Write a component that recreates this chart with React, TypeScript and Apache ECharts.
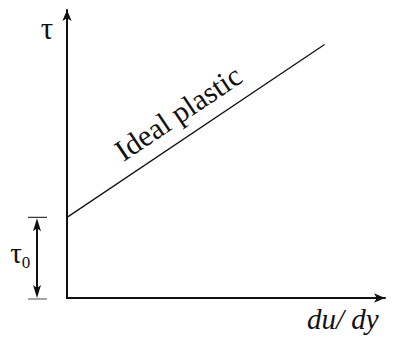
import React, { useEffect, useRef } from "react";
import * as echarts from "echarts";

const xRange = [0, 10];
const yRange = [0, 10];
const tau0Value = [2.8];
const lineX = [0, 8.1];
const lineY = [2.8, 8.8];
const yAxisLabel = ["τ"];
const xAxisLabel = ["du/ dy"];
const lineLabel = ["Ideal plastic"];
const tau0Label = ["τ", "0"];

const SERIF = "Liberation Serif";
const INK = "#111";

function txt(text: string, size: number, extra: any = {}) {
  return {
    text,
    fontSize: size,
    fontFamily: SERIF,
    fill: INK,
    align: "center",
    verticalAlign: "middle",
    ...extra,
  };
}

export default function App() {
  const ref = useRef<HTMLDivElement>(null);
  useEffect(() => {
    if (!ref.current) return;
    const chart = echarts.init(ref.current, undefined, { renderer: "svg" });
    const axisCommon = {
      type: "value" as const,
      axisTick: { show: false },
      axisLabel: { show: false },
      splitLine: { show: false },
      axisLine: {
        show: true,
        symbol: ["none", "arrow"],
        symbolSize: [7, 11],
        lineStyle: { color: INK, width: 2 },
      },
    };
    chart.setOption({
      animation: false,
      backgroundColor: "#fff",
      grid: { left: 67, right: 8, top: 10, bottom: 41 },
      xAxis: { ...axisCommon, min: xRange[0], max: xRange[1] },
      yAxis: { ...axisCommon, min: yRange[0], max: yRange[1] },
      graphic: [
        {
          type: "text",
          x: 47,
          y: 28,
          style: txt(yAxisLabel[0], 31),
        },
        {
          type: "text",
          x: 307,
          y: 319,
          style: txt(xAxisLabel[0], 29, { align: "left", fontStyle: "italic" }),
        },
      ],
      series: [
        {
          type: "line",
          data: lineX.map((x, i) => [x, lineY[i]]),
          symbol: "none",
          lineStyle: { color: INK, width: 1.3 },
          silent: true,
        },
        {
          type: "custom",
          clip: false,
          silent: true,
          data: [[xRange[0], tau0Value[0]]],
          renderItem: (params: any, api: any) => {
            const p0 = api.coord([api.value(0), api.value(1)]);
            const pb = api.coord([api.value(0), yRange[0]]);
            const x0 = p0[0];
            const cx = x0 - 30;
            const mid = (p0[1] + pb[1]) / 2;
            return {
              type: "group",
              children: [
                {
                  type: "line",
                  shape: { x1: x0 - 39, y1: p0[1], x2: x0 - 20, y2: p0[1] },
                  style: { stroke: "#333", lineWidth: 1.2 },
                },
                {
                  type: "line",
                  shape: { x1: x0 - 39, y1: pb[1] + 1, x2: x0 - 20, y2: pb[1] + 1 },
                  style: { stroke: "#888", lineWidth: 1.5 },
                },
                {
                  type: "line",
                  shape: { x1: cx, y1: p0[1] + 8, x2: cx, y2: pb[1] - 8 },
                  style: { stroke: INK, lineWidth: 2 },
                },
                {
                  type: "polygon",
                  shape: {
                    points: [
                      [cx, p0[1] + 1],
                      [cx - 4, p0[1] + 14],
                      [cx, p0[1] + 11],
                      [cx + 4, p0[1] + 14],
                    ],
                  },
                  style: { fill: INK },
                },
                {
                  type: "polygon",
                  shape: {
                    points: [
                      [cx, pb[1]],
                      [cx - 4, pb[1] - 13],
                      [cx, pb[1] - 10],
                      [cx + 4, pb[1] - 13],
                    ],
                  },
                  style: { fill: INK },
                },
                {
                  type: "text",
                  x: x0 - 51,
                  y: mid - 5,
                  style: txt(tau0Label[0], 29),
                },
                {
                  type: "text",
                  x: x0 - 41,
                  y: mid + 5,
                  style: txt(tau0Label[1], 17),
                },
              ],
            };
          },
        },
        {
          type: "custom",
          clip: false,
          silent: true,
          data: [[lineX[0], lineY[0], lineX[1], lineY[1]]],
          renderItem: (params: any, api: any) => {
            const a = api.coord([api.value(0), api.value(1)]);
            const b = api.coord([api.value(2), api.value(3)]);
            const dx = b[0] - a[0];
            const dy = b[1] - a[1];
            const len = Math.sqrt(dx * dx + dy * dy);
            const ux = dx / len;
            const uy = dy / len;
            const t = 0.485 * len;
            const off = 25;
            const nx = uy;
            const ny = -ux;
            const cx = a[0] + ux * t + nx * off;
            const cy = a[1] + uy * t + ny * off;
            const angle = Math.atan2(-dy, dx);
            return {
              type: "text",
              x: cx,
              y: cy,
              rotation: angle,
              style: txt(lineLabel[0], 30),
            };
          },
        },
      ],
    });
    return () => chart.dispose();
  }, []);
  return (
    <div
      ref={ref}
      style={{ position: "fixed", left: 0, top: 0, width: 393, height: 339 }}
    />
  );
}
